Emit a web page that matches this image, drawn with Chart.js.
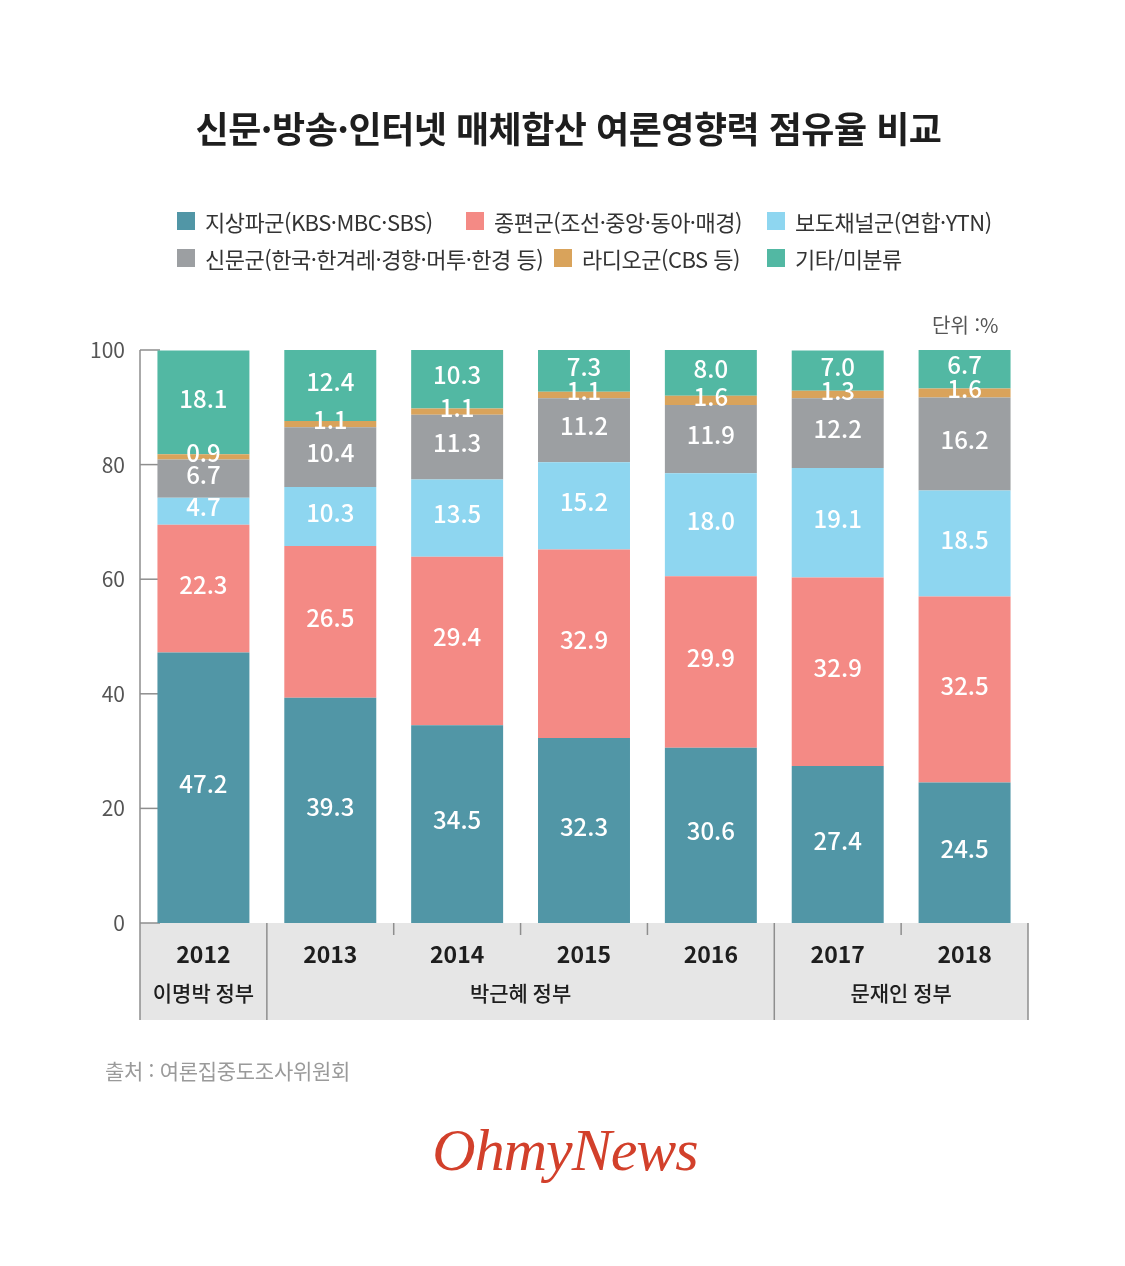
<!DOCTYPE html>
<html lang="ko">
<head>
<meta charset="utf-8">
<title>신문·방송·인터넷 매체합산 여론영향력 점유율 비교</title>
<script src="https://cdn.jsdelivr.net/npm/chart.js@4.4.1/dist/chart.umd.min.js"></script>
<style>
  html, body { margin: 0; padding: 0; background: #fff; }
  #page { position: relative; width: 1125px; height: 1266px; overflow: hidden;
          font-family: "Noto Sans CJK KR", "Noto Sans", sans-serif; }
  #chartBox { position: absolute; left: 0; top: 0; width: 1125px; height: 1266px; }
  .title { position: absolute; left: 0; top: 105px; width: 1137px; text-align: center;
           font-size: 36px; line-height: 44px; font-weight: 700; color: #1e1e1e; letter-spacing: -0.5px; }
  .legend-item { position: absolute; display: flex; align-items: center; height: 30px;
                 font-size: 22px; color: #333; white-space: nowrap; letter-spacing: -0.5px; }
  .legend-item i { display: inline-block; width: 18px; height: 18px; margin-right: 10px; }
  .unit { position: absolute; left: 932px; top: 311px; font-size: 20px; line-height: 28px; color: #555; }
  .source { position: absolute; left: 105px; top: 1056px; font-size: 21px; line-height: 28px; color: #9a9a9a; letter-spacing: -0.3px; }
  .logo { position: absolute; left: 0; top: 1112px; width: 1130px; text-align: center;
          font-family: "Liberation Serif", "DejaVu Serif", serif; font-style: italic;
          font-size: 60px; line-height: 76px; color: #d2402b; letter-spacing: -1px; }
</style>
</head>
<body>
<div id="page">
  <div id="chartBox"><canvas id="chart"></canvas></div>
  <div class="title">신문·방송·인터넷 매체합산 여론영향력 점유율 비교</div>
  <div id="legend"></div>
  <div class="unit">단위 :%</div>
  <div class="source">출처 : 여론집중도조사위원회</div>
  <div class="logo">OhmyNews</div>
</div>
<script>
// 연도
const years = ['2012', '2013', '2014', '2015', '2016', '2017', '2018'];

// 정부 구분 (시작/끝 인덱스)
const govNames = ['이명박 정부', '박근혜 정부', '문재인 정부'];
const govStart = [0, 1, 5];
const govEnd = [0, 4, 6];

// 계열 이름 / 색
const seriesNames = [
  '지상파군(KBS·MBC·SBS)',
  '종편군(조선·중앙·동아·매경)',
  '보도채널군(연합·YTN)',
  '신문군(한국·한겨레·경향·머투·한경 등)',
  '라디오군(CBS 등)',
  '기타/미분류'
];
const seriesColors = ['#5196a6', '#f48a85', '#8ed6f0', '#9c9fa2', '#d9a35b', '#52b8a3'];

// 값 (%)
const terrestrial = [47.2, 39.3, 34.5, 32.3, 30.6, 27.4, 24.5];
const generalCable = [22.3, 26.5, 29.4, 32.9, 29.9, 32.9, 32.5];
const newsChannel = [4.7, 10.3, 13.5, 15.2, 18.0, 19.1, 18.5];
const newspaper = [6.7, 10.4, 11.3, 11.2, 11.9, 12.2, 16.2];
const radio = [0.9, 1.1, 1.1, 1.1, 1.6, 1.3, 1.6];
const others = [18.1, 12.4, 10.3, 7.3, 8.0, 7.0, 6.7];
const seriesValues = [terrestrial, generalCable, newsChannel, newspaper, radio, others];

// y축 눈금
const yTicks = [0, 20, 40, 60, 80, 100];

// 범례 (HTML)
const legendPos = [[177, 206], [466, 206], [767, 206], [177, 243], [554, 243], [767, 243]];
const legendEl = document.getElementById('legend');
seriesNames.forEach((name, i) => {
  const d = document.createElement('div');
  d.className = 'legend-item';
  d.style.left = legendPos[i][0] + 'px';
  d.style.top = legendPos[i][1] + 'px';
  d.innerHTML = '<i style="background:' + seriesColors[i] + '"></i>' + name;
  legendEl.appendChild(d);
});

const FONT = '"Noto Sans CJK KR", "Noto Sans", sans-serif';

// 축선, 안쪽 눈금, 하단 회색 띠
const axisDecor = {
  id: 'axisDecor',
  beforeDatasetsDraw(chart) {
    const { ctx, chartArea: a, scales: { x, y } } = chart;
    const bandBottom = a.bottom + x.height;
    const half = (x.getPixelForValue(1) - x.getPixelForValue(0)) / 2;
    ctx.save();
    ctx.fillStyle = '#e6e6e6';
    ctx.fillRect(a.left, a.bottom, a.right - a.left, x.height);

    ctx.strokeStyle = '#8e8e8e';
    ctx.lineWidth = 1.5;
    const line = (x1, y1, x2, y2) => {
      ctx.beginPath(); ctx.moveTo(x1, y1); ctx.lineTo(x2, y2); ctx.stroke();
    };
    line(a.left, a.top, a.left, bandBottom);
    yTicks.forEach(v => {
      const py = y.getPixelForValue(v);
      line(a.left, py, a.left + 20, py);
    });
    // 연도 경계
    for (let i = 0; i < years.length; i++) {
      const bx = x.getPixelForValue(i) + half;
      const isGroupEdge = govEnd.includes(i);
      line(bx, a.bottom, bx, isGroupEdge ? bandBottom : a.bottom + 12);
    }
    ctx.restore();
  },
  afterDatasetsDraw(chart) {
    const { ctx } = chart;
    ctx.save();
    ctx.fillStyle = '#fff';
    ctx.font = '500 24px ' + FONT;
    ctx.textAlign = 'center';
    ctx.textBaseline = 'middle';
    chart.data.datasets.forEach((ds, di) => {
      const meta = chart.getDatasetMeta(di);
      meta.data.forEach((bar, i) => {
        const cy = (bar.y + bar.base) / 2 - 4;
        ctx.fillText(ds.data[i].toFixed(1), bar.x, cy);
      });
    });
    ctx.restore();
  },
  afterDraw(chart) {
    const { ctx, chartArea: a, scales: { x } } = chart;
    ctx.save();
    ctx.fillStyle = '#1e1e1e';
    ctx.textAlign = 'center';
    ctx.textBaseline = 'middle';
    ctx.font = 'bold 23px ' + FONT;
    years.forEach((yr, i) => ctx.fillText(yr, x.getPixelForValue(i), a.bottom + 31));
    ctx.font = '500 21px ' + FONT;
    govNames.forEach((g, k) => {
      const cx = (x.getPixelForValue(govStart[k]) + x.getPixelForValue(govEnd[k])) / 2;
      ctx.fillText(g, cx, a.bottom + 70);
    });
    ctx.restore();
  }
};

new Chart(document.getElementById('chart'), {
  type: 'bar',
  data: {
    labels: years,
    datasets: seriesValues.map((vals, i) => ({
      label: seriesNames[i],
      data: vals,
      backgroundColor: seriesColors[i],
      borderWidth: 0,
      categoryPercentage: 1,
      barPercentage: 0.725
    }))
  },
  options: {
    responsive: true,
    maintainAspectRatio: false,
    animation: false,
    layout: { padding: { top: 350, right: 97, bottom: 246, left: 0 } },
    plugins: {
      legend: { display: false },
      title: { display: false },
      tooltip: { enabled: false }
    },
    scales: {
      x: {
        stacked: true,
        ticks: { display: false },
        grid: { display: false, drawTicks: false },
        border: { display: false },
        afterFit: s => { s.height = 97; }
      },
      y: {
        stacked: true,
        min: 0,
        max: 100,
        afterBuildTicks: s => { s.ticks = yTicks.map(v => ({ value: v })); },
        ticks: { padding: 15, color: '#555', font: { family: FONT, size: 21 } },
        grid: { display: false, drawTicks: false },
        border: { display: false },
        afterFit: s => { s.width = 140; }
      }
    }
  },
  plugins: [axisDecor]
});
</script>
</body>
</html>
